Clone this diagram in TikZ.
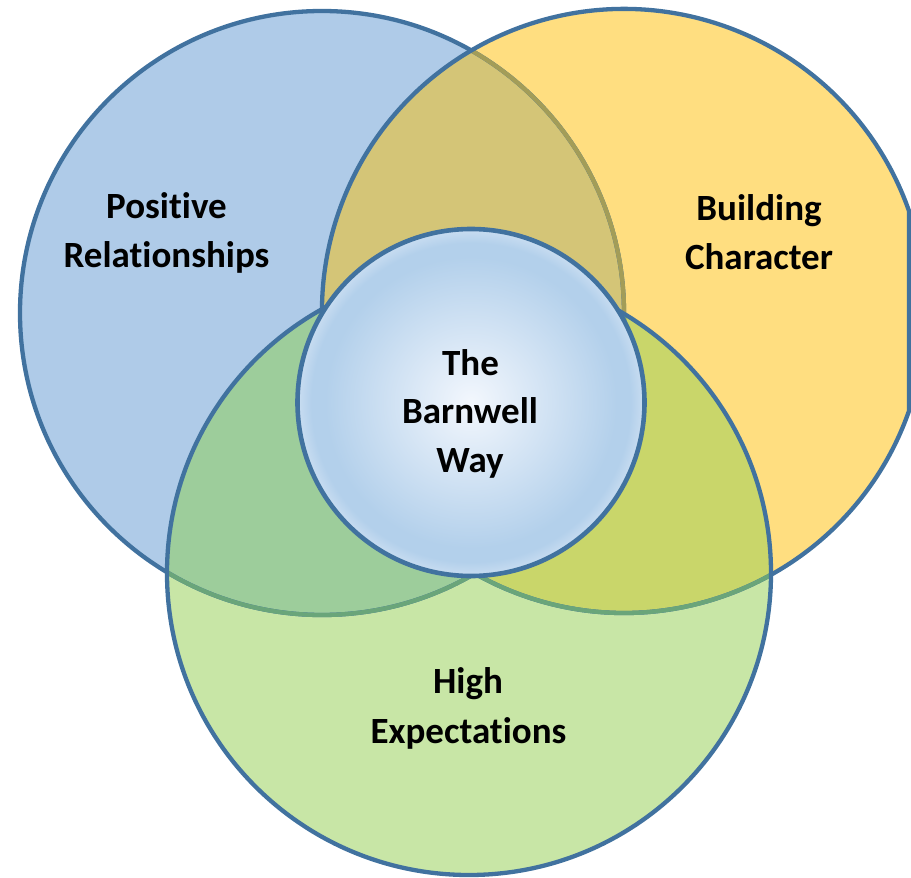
\documentclass[tikz,border=0pt]{standalone}
\usepackage{fontspec}
\setmainfont[Ligatures=NoCommon]{Carlito}
\definecolor{rimblue}{HTML}{41729F}
\definecolor{fillB}{HTML}{AFCBE8}
\definecolor{fillY}{HTML}{FFDE80}
\definecolor{fillG}{HTML}{C8E6A6}
\definecolor{fillBY}{HTML}{D4C577}
\definecolor{fillBG}{HTML}{9DCD9B}
\definecolor{fillYG}{HTML}{C9D66A}
\definecolor{fillBYG}{HTML}{A8C46C}
\definecolor{rimolive}{HTML}{A39D58}
\definecolor{rimgreen}{HTML}{6AA57A}
\definecolor{corein}{HTML}{F3F7FD}
\definecolor{coremid}{HTML}{B3D0EB}
\definecolor{coreout}{HTML}{C9DDF1}
\pgfdeclareradialshading{coreshade}{\pgfpoint{0bp}{0bp}}{color(0bp)=(corein); color(21bp)=(coremid); color(23bp)=(coremid); color(25bp)=(coreout); color(50bp)=(coreout)}
\begin{document}
\begin{tikzpicture}[x=1pt,y=-1pt,
  rim/.style={line width=4.3pt},
  lbl/.style={font=\bfseries\fontsize{37}{44}\selectfont, anchor=base, inner sep=0pt, text=black}]
\useasboundingbox (0,0) rectangle (911,878);
\def\pathB{(322,313) circle[radius=302]}
\def\pathY{(909,410.9) arc[start angle=19.33,end angle=340.67,radius=302] -- cycle}
\def\pathG{(469,573) circle[radius=302]}
% base fills
\fill[fillB] \pathB;
\fill[fillY] \pathY;
\fill[fillG] \pathG;
% overlaps
\begin{scope}\clip \pathB; \fill[fillBY] \pathY; \end{scope}
\begin{scope}\clip \pathB; \fill[fillBG] \pathG; \end{scope}
\begin{scope}\clip \pathY; \fill[fillYG] \pathG; \end{scope}
\begin{scope}\clip \pathB; \clip \pathY; \fill[fillBYG] \pathG; \end{scope}
% outlines
\draw[rim, rimblue] \pathB;
\begin{scope}\clip \pathY; \draw[rim, rimolive] \pathB; \end{scope}
\draw[rim, rimblue] \pathY;
\begin{scope}\clip \pathG; \draw[rim, rimgreen] \pathB; \draw[rim, rimgreen] \pathY; \end{scope}
\draw[rim, rimblue] \pathG;
% centre circle
\node[circle, minimum size=347pt, inner sep=0pt, draw=rimblue, line width=4.6pt, shading=coreshade] (core) at (471,402.5) {};
% labels
\node[lbl] (p1) at (166.5,218) {Positive};
\node[lbl] (p2) at (166.5,267) {Relationships};
\node[lbl] (b1) at (759,220) {Building};
\node[lbl] (b2) at (759,269) {Character};
\node[lbl] (h1) at (468,693) {High};
\node[lbl] (h2) at (468.5,743) {Expectations};
\node[lbl] (t1) at (470.5,375) {The};
\node[lbl] (t2) at (470,423.3) {Barnwell};
\node[lbl] (t3) at (470,472.7) {Way};
\end{tikzpicture}
\end{document}
